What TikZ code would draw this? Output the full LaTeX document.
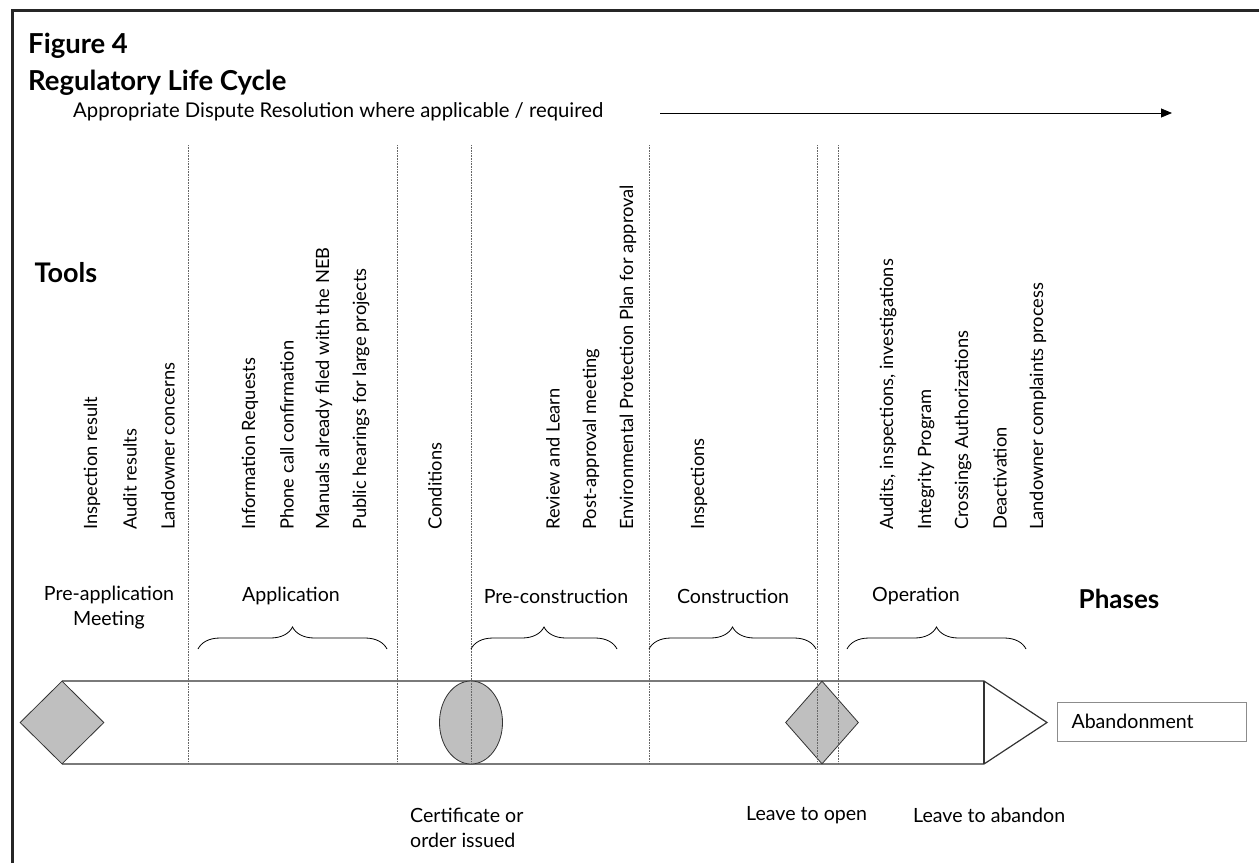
\documentclass[tikz,border=0pt]{standalone}
\usepackage{fontspec}
\setmainfont{Lato}
\usetikzlibrary{positioning,shapes.geometric,decorations.pathreplacing,arrows.meta}

\begin{document}
\begin{tikzpicture}[x=1pt, y=-1pt,
	t/.style={font=\fontsize{19.6}{25}\selectfont, inner sep=0pt},
	vt/.style={font=\fontsize{18.3}{22}\selectfont, inner sep=0pt, rotate=90, anchor=west},
	h/.style={font=\fontsize{27.5}{32}\selectfont\bfseries, inner sep=0pt},
	dl/.style={densely dotted, black!60, line width=0.6pt},
	br/.style={decorate, decoration={brace, amplitude=22pt}, line width=0.8pt},
	bl/.style={black!80, line width=1.2pt},
	g/.style={draw=black!80, fill=gray!50, line width=0.8pt, inner sep=0pt}]
	\useasboundingbox (0,0) rectangle (1259,863);
	\draw[line width=3pt, black!85] (12,863) -- (12,10) -- (1259,10);

	% title and dispute resolution arrow
	\node[h, anchor=base west] (fig) at (28,53) {Figure 4};
	\node[h, anchor=base west] (reg) at (28,90) {Regulatory Life Cycle};
	\node[t, font=\fontsize{20.3}{25}\selectfont, anchor=base west] (disp) at (73,117) {Appropriate Dispute Resolution where applicable / required};
	\coordinate (dispS) at (660,113);
	\coordinate (dispE) at (1172,113);
	\draw[-{Triangle[length=11pt, width=9pt]}, line width=0.8pt] (dispS) -- (dispE);

	\node[h, font=\fontsize{27}{32}\selectfont\bfseries] (tools) at (66,273) {Tools};
	\node[h, font=\fontsize{26}{32}\selectfont\bfseries] (phases) at (1119,599) {Phases};

	% tools
	\node[vt] (insRes) at (92,530) {Inspection result};
	\node[vt] (audRes) at (130,530) {Audit results};
	\node[vt] (landCon) at (168,530) {Landowner concerns};
	\node[vt] (infoReq) at (250,530) {Information Requests};
	\node[vt] (phone) at (287,530) {Phone call confirmation};
	\node[vt] (manuals) at (324,530) {Manuals already filed with the NEB};
	\node[vt] (hearings) at (361,530) {Public hearings for large projects};
	\node[vt] (cond) at (435,530) {Conditions};
	\node[vt] (review) at (553,530) {Review and Learn};
	\node[vt] (postApp) at (591,530) {Post-approval meeting};
	\node[vt] (envPlan) at (628,530) {Environmental Protection Plan for approval};
	\node[vt] (insp) at (699,530) {Inspections};
	\node[vt] (audits) at (888,530) {Audits, inspections, investigations};
	\node[vt] (integ) at (926,530) {Integrity Program};
	\node[vt] (cross) at (963,530) {Crossings Authorizations};
	\node[vt] (deact) at (1000,530) {Deactivation};
	\node[vt] (landComp) at (1038,530) {Landowner complaints process};

	% phases
	\node[t, align=center] (preApp) at (109,608) {Pre-application\\Meeting};
	\node[t] (app) at (291,596) {Application};
	\node[t] (preCon) at (556,596) {Pre-construction};
	\node[t] (con) at (733,596) {Construction};
	\node[t] (op) at (916,596) {Operation};

	\coordinate (appL) at (198,649);
	\coordinate (appR) at (387,649);
	\coordinate (preConL) at (471,649);
	\coordinate (preConR) at (617,649);
	\coordinate (conL) at (649,649);
	\coordinate (conR) at (816,649);
	\coordinate (opL) at (847,649);
	\coordinate (opR) at (1026,649);
	\draw[br] (appL) -- (appR);
	\draw[br] (preConL) -- (preConR);
	\draw[br] (conL) -- (conR);
	\draw[br] (opL) -- (opR);

	% life cycle band
	\coordinate (bTL) at (62,681);
	\coordinate (bTR) at (984,681);
	\coordinate (bBL) at (62,764);
	\coordinate (bBR) at (984,764);
	\coordinate (bTip) at (1047,722.5);
	\draw[bl] (bTL) -- (bTR) -- (bTip) -- (bBR) -- (bBL);
	\draw[bl] (bTR) -- (bBR);

	\node[g, diamond, minimum width=84pt, minimum height=83pt] (meet) at (62,722.5) {};
	\node[g, ellipse, minimum width=63pt, minimum height=83pt] (cert) at (471,722.5) {};
	\node[g, diamond, minimum width=73pt, minimum height=83pt] (open) at (822,722.5) {};

	\coordinate (s1t) at (188,145);
	\coordinate (s1b) at (188,764);
	\coordinate (s2t) at (397,145);
	\coordinate (s2b) at (397,764);
	\coordinate (s3t) at (471,145);
	\coordinate (s3b) at (471,764);
	\coordinate (s4t) at (649,145);
	\coordinate (s4b) at (649,764);
	\coordinate (s5t) at (817,145);
	\coordinate (s5b) at (817,764);
	\coordinate (s6t) at (838,145);
	\coordinate (s6b) at (838,764);
	\draw[dl] (s1t) -- (s1b);
	\draw[dl] (s2t) -- (s2b);
	\draw[dl] (s3t) -- (s3b);
	\draw[dl] (s4t) -- (s4b);
	\draw[dl] (s5t) -- (s5b);
	\draw[dl] (s6t) -- (s6b);

	\node[t, draw=black!45, line width=1pt, minimum width=189pt, minimum height=39pt, text width=161pt, inner xsep=14pt, align=left, anchor=west] (aband) at (1057,721.5) {Abandonment};

	% milestones
	\node[t, align=left, anchor=west] (certLbl) at (410,828) {Certificate or\\order issued};
	\node[t, anchor=west] (openLbl) at (746,815) {Leave to open};
	\node[t, anchor=west] (abandLbl) at (913,815) {Leave to abandon};
\end{tikzpicture}
\end{document}
